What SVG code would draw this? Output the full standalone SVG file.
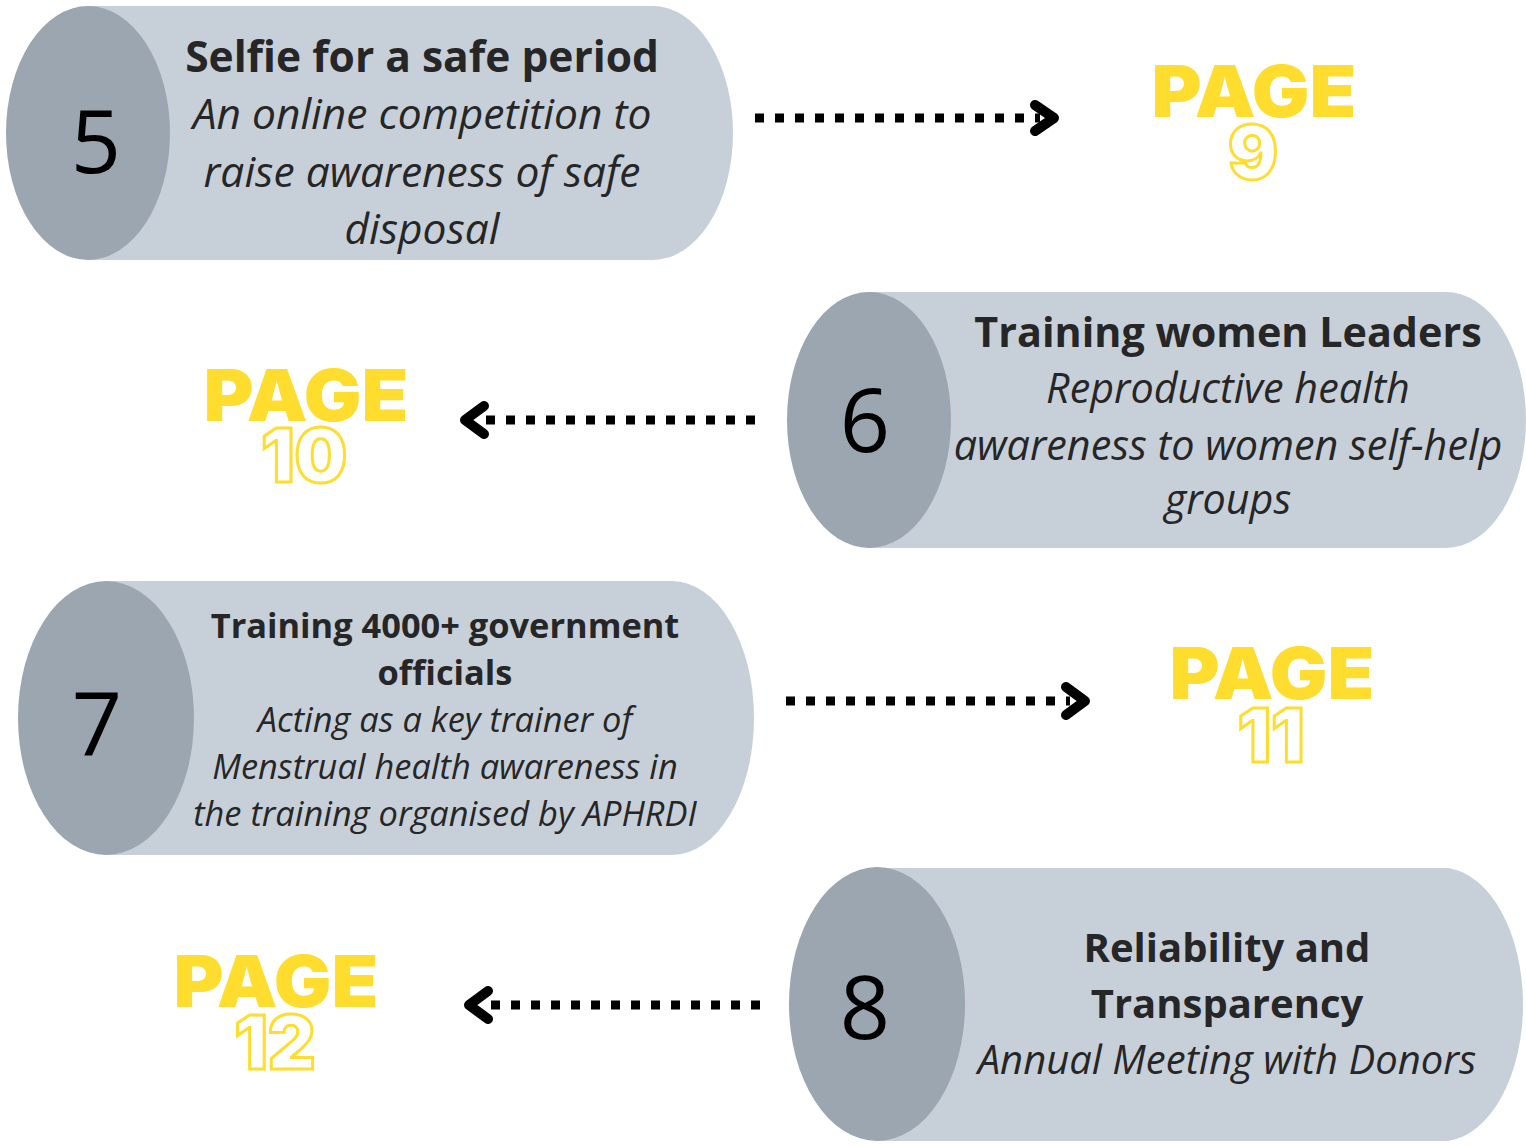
<svg xmlns="http://www.w3.org/2000/svg" width="1526" height="1147" viewBox="0 0 1526 1147">
<defs>
<style>
.body{fill:#C7D0D9}
.cap{fill:#9BA6B1}
.num{font-family:"Open Sans","DejaVu Sans",sans-serif;font-size:88px;fill:#000;text-anchor:middle}
.t{font-family:"Open Sans","DejaVu Sans",sans-serif;font-weight:700;fill:#262626;text-anchor:middle}
.i{font-family:"Open Sans","DejaVu Sans",sans-serif;font-style:italic;fill:#262626;text-anchor:middle}
.page{font-family:Inter,"DejaVu Sans",sans-serif;font-weight:900;font-size:72px;fill:#FFDD2E;text-anchor:middle}
.pn{font-family:Inter,"DejaVu Sans",sans-serif;font-weight:900;font-size:74px;fill:#fff;stroke:#FFDD2E;stroke-width:3;text-anchor:middle}
.dots{stroke:#000;stroke-width:9;stroke-dasharray:9 11;fill:none}
.head{stroke:#000;stroke-width:10;stroke-linecap:round;stroke-linejoin:round;fill:none}
</style>
</defs>
<rect width="1526" height="1147" fill="#fff"/>

<g id="node5">
<path class="body" d="M88,6 H653 A80,127 0 0 1 653,260 H88 Z"/>
<ellipse class="cap" cx="88" cy="133" rx="82" ry="127"/>
<text class="num" x="96" y="173">5</text>
<text class="t" x="422" y="72" font-size="42.5">Selfie for a safe period</text>
<text class="i" x="422" y="129" font-size="42.5">An online competition to</text>
<text class="i" x="422" y="187" font-size="42.5">raise awareness of safe</text>
<text class="i" x="422" y="244" font-size="42.5">disposal</text>
</g>

<g id="node6">
<path class="body" d="M869,292 H1446 A80,128 0 0 1 1446,548 H869 Z"/>
<ellipse class="cap" cx="869" cy="420" rx="82" ry="128"/>
<text class="num" x="865" y="452">6</text>
<text class="t" x="1228" y="347" font-size="41.3">Training women Leaders</text>
<text class="i" x="1228" y="403" font-size="41.3">Reproductive health</text>
<text class="i" x="1228" y="460" font-size="41.3">awareness to women self-help</text>
<text class="i" x="1228" y="514" font-size="41.3">groups</text>
</g>

<g id="node7">
<path class="body" d="M106,581 H672 A82,137 0 0 1 672,855 H106 Z"/>
<ellipse class="cap" cx="106" cy="718" rx="88" ry="137"/>
<text class="num" x="97" y="755">7</text>
<text class="t" x="445" y="638" font-size="34.4">Training 4000+ government</text>
<text class="t" x="445" y="685" font-size="34.4">officials</text>
<text class="i" x="445" y="732" font-size="34.4">Acting as a key trainer of</text>
<text class="i" x="445" y="779" font-size="34.4">Menstrual health awareness in</text>
<text class="i" x="445" y="826" font-size="34.4">the training organised by APHRDI</text>
</g>

<g id="node8">
<path class="body" d="M877,868 H1448 A82,137 0 0 1 1448,1141 H877 Z"/>
<ellipse class="cap" cx="877" cy="1004" rx="88" ry="137"/>
<text class="num" x="865" y="1039">8</text>
<text class="t" x="1227" y="962" font-size="40">Reliability and</text>
<text class="t" x="1227" y="1018" font-size="40">Transparency</text>
<text class="i" x="1227" y="1074" font-size="40">Annual Meeting with Donors</text>
</g>

<g id="page9">
<text class="page" x="1254" y="117" textLength="205" lengthAdjust="spacingAndGlyphs">PAGE</text>
<text class="pn" x="1253" y="179">9</text>
</g>
<g id="page10">
<text class="page" x="306" y="421" textLength="205" lengthAdjust="spacingAndGlyphs">PAGE</text>
<text class="pn" x="304" y="482">10</text>
</g>
<g id="page11">
<text class="page" x="1272" y="699" textLength="205" lengthAdjust="spacingAndGlyphs">PAGE</text>
<text class="pn" x="1271" y="762">11</text>
</g>
<g id="page12">
<text class="page" x="276" y="1007" textLength="205" lengthAdjust="spacingAndGlyphs">PAGE</text>
<text class="pn" x="275" y="1069">12</text>
</g>

<g id="connectors">
<line class="dots" x1="755" y1="118" x2="1040" y2="118"/>
<polyline class="head" points="1035,105 1054,118 1035,131"/>
<line class="dots" x1="755" y1="420" x2="485" y2="420"/>
<polyline class="head" points="484,406 465,420 484,434"/>
<line class="dots" x1="786" y1="701" x2="1070" y2="701"/>
<polyline class="head" points="1066,687 1085,701 1066,715"/>
<line class="dots" x1="760" y1="1005" x2="490" y2="1005"/>
<polyline class="head" points="488,991 469,1005 488,1019"/>
</g>
</svg>
